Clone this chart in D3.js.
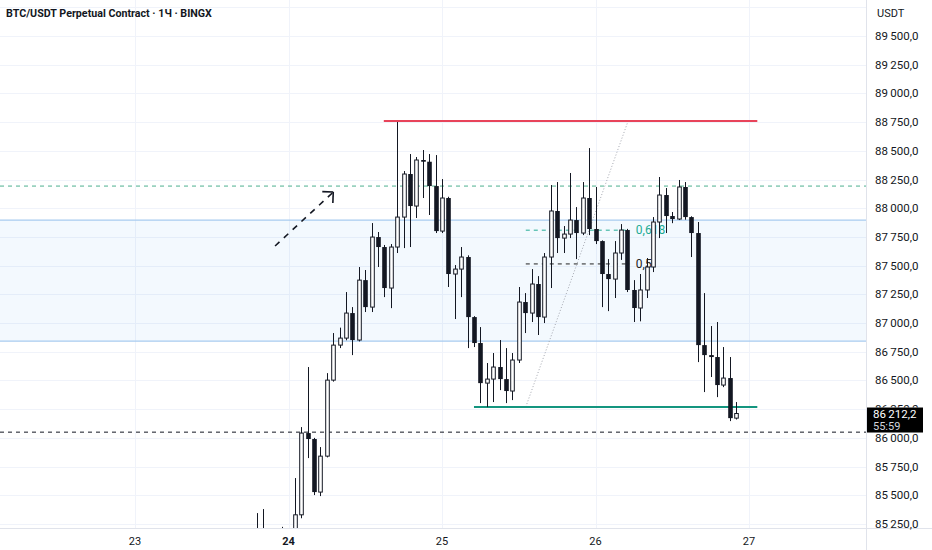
<!DOCTYPE html>
<html>
<head>
<meta charset="utf-8">
<script src="https://cdn.jsdelivr.net/npm/d3@7/dist/d3.min.js"></script>
<style>
  html, body { margin: 0; padding: 0; background: #fff; }
  svg { display: block; font-family: Roboto, "Noto Sans", sans-serif; }
</style>
</head>
<body>
<svg id="chart" width="932" height="550"></svg>
<script>
// ---------- DATA ----------
const title = "BTC/USDT Perpetual Contract · 1Ч · BINGX";
const currency = "USDT";
const dayTicks = [0, 24, 48, 72, 96];          // hours since the 23rd, 00:00
const dayLabels = ["23", "24", "25", "26", "27"];
const boldDay = "24";
const priceTicks = [85250, 85500, 85750, 86000, 86250, 86500, 86750, 87000, 87250,
  87500, 87750, 88000, 88250, 88500, 88750, 89000, 89250, 89500, 89750];

const candleStartHour = 19; // first candle: the 23rd 19:00, one candle per hour
const opens = [85050,85120,85080,85010,85100,85150,
  85180,85330,86042,85990,85528,85841,86503,86808,86869,87087,86852,87374,87139,87749,87662,87305,
  87662,87923,88298,88019,88420,88405,88193,
  87801,88089,87427,87470,87575,87052,86826,86477,86512,86617,86512,86408,86678,87183,87087,87340,
  87052,87575,87976,87740,87775,87897,87784,88089,
  87819,87714,87427,87383,87610,87810,87288,87131,87288,87488,87880,88115,87932,87906,88185,87923,
  87784,86808,86721,86704,86460,86521,86172];
const highs = [85345,85380,85180,85150,85225,85190,
  85650,86094,86617,86000,85920,86564,86913,86960,87270,87139,87488,87462,87871,87793,87680,87688,
  88751,88324,88472,88446,88507,88472,88463,
  88254,88100,87505,87662,87590,87060,86965,86652,86739,86852,86782,86739,87314,87261,87470,87409,
  87610,88202,88228,87845,88307,88010,88228,88524,
  88185,87720,87557,87714,87862,87820,87374,87427,87566,87923,88272,88176,87967,88246,88228,87930,
  87880,87261,86974,87009,86791,86704,86312];
const lows = [84950,85000,84950,84900,85000,85050,
  85100,85300,85824,85502,85493,85830,86490,86782,86850,86721,86840,87096,87096,87488,87226,87130,
  87610,87653,87662,87915,88089,87941,87784,
  87784,87314,87035,87226,86782,86791,86303,86268,86312,86416,86303,86329,86652,86913,87009,86896,
  87000,87305,87610,87610,87740,87557,87766,87766,
  87688,87139,87104,87218,87550,87270,87009,87015,87218,87444,87740,87784,87870,87897,87900,87575,
  86660,86399,86530,86355,86442,86146,86160];
const closes = [85120,85080,85010,85100,85150,85180,
  85330,86042,85990,85528,85841,86503,86808,86869,87087,86852,87374,87139,87749,87662,87305,87662,
  87923,88298,88019,88420,88405,88193,87801,
  88089,87427,87470,87575,87052,86826,86477,86512,86617,86512,86408,86678,87183,87087,87340,87052,
  87575,87976,87740,87775,87897,87784,88089,87819,
  87714,87427,87383,87610,87810,87288,87131,87288,87488,87880,88115,87932,87906,88185,87923,87784,
  86808,86721,86704,86460,86521,86172,86212.2];

const lastPrice = 86212.2;
const countdown = "55:59";

// drawings (hour since 23rd 00:00, price)
const zonePrices = [86843, 87897];
const greenDashedPrice = 88193;
const blackDashedPrice = 86050;
const resistance = { price: 88760, fromHour: 38.9, toHour: 97.3 };
const support = { price: 86270, fromHour: 53.0, toHour: 97.3 };
const fibStart = { hour: 61.1, price: 86270 };
const fibEnd = { hour: 77.1, price: 88760 };
const fibLevels = [0.5, 0.618];
const fibLabels = ["0,5", "0,618"];
const fibLineEndHour = 77.4;
const fibLabelHour = 78.3;
const arrowFrom = { hour: 21.9, price: 87671 };
const arrowTo = { hour: 31.0, price: 88141 };

// ---------- LAYOUT ----------
const W = 932, H = 550;
const plotRight = 866, plotBottom = 528;
const svg = d3.select("#chart");

const x = d3.scaleLinear().domain([0, 96]).range([135, 749]);
const y = d3.scaleLinear().domain([85250, 89500]).range([524, 36]);

const locale = d3.formatLocale({ decimal: ",", thousands: "\u2009", grouping: [3], currency: ["", ""] });
const fmt = locale.format(",.1f");

const defs = svg.append("defs");
defs.append("clipPath").attr("id", "plotClip")
  .append("rect").attr("x", 0).attr("y", 0).attr("width", plotRight).attr("height", plotBottom);

const plot = svg.append("g").attr("clip-path", "url(#plotClip)");

// grid
plot.append("g").selectAll("line").data(priceTicks).join("line")
  .attr("x1", 0).attr("x2", plotRight)
  .attr("y1", d => Math.round(y(d)) + 0.5).attr("y2", d => Math.round(y(d)) + 0.5)
  .attr("stroke", "#f0f3fa").attr("stroke-width", 1);
plot.append("g").selectAll("line").data(dayTicks).join("line")
  .attr("x1", d => Math.round(x(d)) + 0.5).attr("x2", d => Math.round(x(d)) + 0.5)
  .attr("y1", 0).attr("y2", plotBottom)
  .attr("stroke", "#f0f3fa").attr("stroke-width", 1);

// zone
plot.append("rect")
  .attr("x", 0).attr("width", plotRight)
  .attr("y", y(zonePrices[1])).attr("height", y(zonePrices[0]) - y(zonePrices[1]))
  .attr("fill", "rgba(33,150,243,0.055)");
plot.append("g").selectAll("line").data(zonePrices).join("line")
  .attr("x1", 0).attr("x2", plotRight)
  .attr("y1", d => y(d)).attr("y2", d => y(d))
  .attr("stroke", "#a8cbef").attr("stroke-width", 1.3);

// horizontal dashed lines
plot.append("line").attr("x1", 0).attr("x2", plotRight)
  .attr("y1", y(greenDashedPrice)).attr("y2", y(greenDashedPrice))
  .attr("stroke", "#4caf8e").attr("stroke-width", 1).attr("stroke-dasharray", "4,4");
plot.append("line").attr("x1", 0).attr("x2", plotRight)
  .attr("y1", y(blackDashedPrice)).attr("y2", y(blackDashedPrice))
  .attr("stroke", "#131722").attr("stroke-width", 1).attr("stroke-dasharray", "4,4");

// fib levels
const fibPrice = f => fibStart.price + f * (fibEnd.price - fibStart.price);
fibLevels.forEach((f, i) => {
  const col = f === 0.5 ? "#222" : "#22ab94";
  plot.append("line")
    .attr("x1", x(fibStart.hour)).attr("x2", x(fibLineEndHour))
    .attr("y1", y(fibPrice(f))).attr("y2", y(fibPrice(f)))
    .attr("stroke", col).attr("stroke-width", 1).attr("stroke-dasharray", "4,4");
  plot.append("text")
    .attr("x", x(fibLabelHour)).attr("y", y(fibPrice(f)) + 4)
    .attr("font-size", 12).attr("fill", col).text(fibLabels[i]);
});
// fib trend (dotted)
plot.append("line")
  .attr("x1", x(fibStart.hour)).attr("y1", y(fibStart.price))
  .attr("x2", x(fibEnd.hour)).attr("y2", y(fibEnd.price))
  .attr("stroke", "#a3a6af").attr("stroke-width", 1).attr("stroke-dasharray", "1,2");

// resistance / support
plot.append("line")
  .attr("x1", x(resistance.fromHour)).attr("x2", x(resistance.toHour))
  .attr("y1", y(resistance.price)).attr("y2", y(resistance.price))
  .attr("stroke", "#e8445a").attr("stroke-width", 2);
plot.append("line")
  .attr("x1", x(support.fromHour)).attr("x2", x(support.toHour))
  .attr("y1", y(support.price)).attr("y2", y(support.price))
  .attr("stroke", "#13957f").attr("stroke-width", 2);

// arrow
{
  const x1 = x(arrowFrom.hour), y1 = y(arrowFrom.price);
  const x2 = x(arrowTo.hour), y2 = y(arrowTo.price);
  plot.append("line").attr("x1", x1).attr("y1", y1).attr("x2", x2).attr("y2", y2)
    .attr("stroke", "#131722").attr("stroke-width", 1.6).attr("stroke-dasharray", "6,6");
  const ang = Math.atan2(y1 - y2, x1 - x2);
  const L = 11;
  [ang - Math.PI / 4, ang + Math.PI / 4].forEach(a => {
    plot.append("line").attr("x1", x2).attr("y1", y2)
      .attr("x2", x2 + L * Math.cos(a)).attr("y2", y2 + L * Math.sin(a))
      .attr("stroke", "#131722").attr("stroke-width", 1.6);
  });
}

// candles
const candles = opens.map((o, i) => ({ h: candleStartHour + i, o, hi: highs[i], lo: lows[i], c: closes[i] }));
const bw = 4.6;
const cg = plot.append("g");
cg.selectAll("line.wick").data(candles).join("line").attr("class", "wick")
  .attr("x1", d => Math.round(x(d.h)) + 0.5).attr("x2", d => Math.round(x(d.h)) + 0.5)
  .attr("y1", d => y(d.hi)).attr("y2", d => y(d.lo))
  .attr("stroke", "#131722").attr("stroke-width", 1);
cg.selectAll("rect.body").data(candles).join("rect").attr("class", "body")
  .attr("x", d => Math.round(x(d.h)) + 0.5 - bw / 2 + (d.c >= d.o ? 0.5 : 0))
  .attr("width", d => d.c >= d.o ? bw - 1 : bw)
  .attr("y", d => y(Math.max(d.o, d.c)))
  .attr("height", d => Math.max(1.2, Math.abs(y(d.o) - y(d.c))))
  .attr("fill", d => d.c >= d.o ? "#ffffff" : "#131722")
  .attr("stroke", d => d.c >= d.o ? "#131722" : "none")
  .attr("stroke-width", 1);

// borders
svg.append("line").attr("x1", plotRight + 0.5).attr("x2", plotRight + 0.5)
  .attr("y1", 0).attr("y2", H).attr("stroke", "#e0e3eb");
svg.append("line").attr("x1", 0).attr("x2", W)
  .attr("y1", plotBottom + 0.5).attr("y2", plotBottom + 0.5).attr("stroke", "#e0e3eb");

// price axis labels (the one behind the last-price tag is clipped to what peeks out)
const py = y(lastPrice);
defs.append("clipPath").attr("id", "axisClip")
  .append("path")
  .attr("d", `M${plotRight},0H${W}V${py - 6}H${plotRight}Z M${plotRight},${py + 19}H${W}V${H}H${plotRight}Z`);
svg.append("g").attr("clip-path", "url(#axisClip)")
  .selectAll("text").data(priceTicks.filter(p => y(p) > 20)).join("text")
  .attr("x", 875).attr("y", d => y(d) + 4)
  .attr("font-size", 11.5).attr("fill", "#131722").text(d => fmt(d));
svg.append("text").attr("x", 877).attr("y", 17).attr("font-size", 11)
  .attr("fill", "#131722").text(currency);

// last price label
svg.append("rect").attr("x", plotRight + 1).attr("y", py - 6).attr("width", 56).attr("height", 25)
  .attr("fill", "#000");
svg.append("text").attr("x", 873).attr("y", py + 4.5).attr("font-size", 11.5)
  .attr("fill", "#fff").text(fmt(lastPrice));
svg.append("text").attr("x", 873).attr("y", py + 16).attr("font-size", 11)
  .attr("fill", "#d1d4dc").text(countdown);

// time axis labels
svg.append("g").selectAll("text").data(dayTicks).join("text")
  .attr("x", d => x(d)).attr("y", 545).attr("text-anchor", "middle")
  .attr("font-size", 11).attr("fill", "#131722")
  .attr("font-weight", (d, i) => dayLabels[i] === boldDay ? "bold" : "normal")
  .text((d, i) => dayLabels[i]);

// title
svg.append("text").attr("x", 6).attr("y", 17).attr("font-size", 10.7)
  .attr("font-weight", 700).attr("fill", "#131722").text(title);
</script>
</body>
</html>
